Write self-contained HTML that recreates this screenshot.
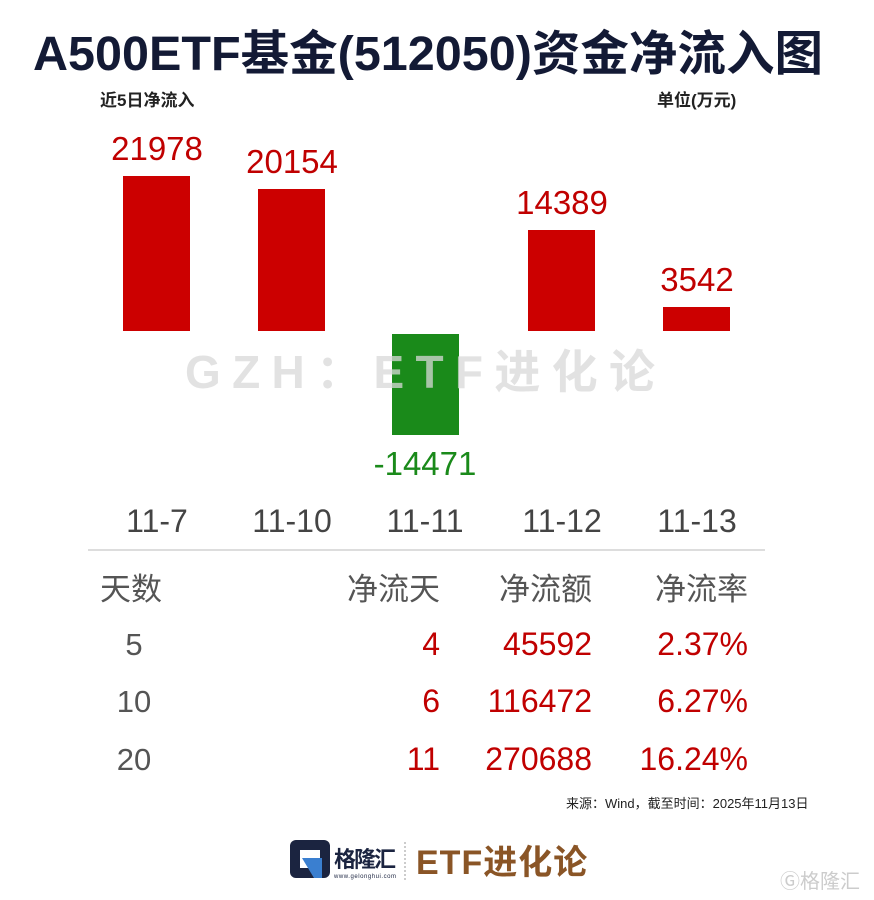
<!DOCTYPE html><html><head><meta charset="utf-8"><style>body{margin:0;background:#fff}svg{display:block}</style></head><body>
<svg width="874" height="900" xmlns="http://www.w3.org/2000/svg" font-family="Liberation Sans, Noto Sans CJK SC, sans-serif">
<text x="33" y="70" font-size="48" font-weight="bold" fill="#131a35" textLength="790" lengthAdjust="spacingAndGlyphs">A500ETF基金(512050)资金净流入图</text>
<text x="100" y="106" font-size="17" font-weight="bold" fill="#222">近5日净流入</text>
<text x="657" y="106" font-size="17" font-weight="bold" fill="#222">单位(万元)</text>
<rect x="123" y="176" width="67" height="155" fill="#cc0000"/>
<rect x="258" y="189" width="67" height="142" fill="#cc0000"/>
<rect x="392" y="334" width="67" height="101" fill="#1a8a1a"/>
<rect x="528" y="230" width="67" height="101" fill="#cc0000"/>
<rect x="663" y="307" width="67" height="24" fill="#cc0000"/>
<text x="185" y="388" font-size="46" font-weight="bold" fill="#d8d8d8" fill-opacity="0.75" textLength="470" lengthAdjust="spacing">GZH：ETF进化论</text>
<g font-size="33" fill="#c00000" text-anchor="middle">
<text x="157" y="160">21978</text><text x="292" y="173">20154</text><text x="562" y="214">14389</text><text x="697" y="291">3542</text>
<text x="425" y="475" fill="#1a8a1a">-14471</text></g>
<g font-size="32" fill="#444" text-anchor="middle">
<text x="157" y="532">11-7</text><text x="292" y="532">11-10</text><text x="425" y="532">11-11</text><text x="562" y="532">11-12</text><text x="697" y="532">11-13</text></g>
<line x1="88" y1="550" x2="765" y2="550" stroke="#ddd" stroke-width="2"/>
<g font-size="31" fill="#555"><text x="100" y="600">天数</text>
<text x="440" y="600" text-anchor="end">净流天</text><text x="592" y="600" text-anchor="end">净流额</text><text x="748" y="600" text-anchor="end">净流率</text>
<g text-anchor="middle"><text x="134" y="655">5</text><text x="134" y="712">10</text><text x="134" y="770">20</text></g></g>
<g font-size="32" fill="#c00000" text-anchor="end">
<text x="440" y="655">4</text><text x="592" y="655">45592</text><text x="748" y="655">2.37%</text>
<text x="440" y="712">6</text><text x="592" y="712">116472</text><text x="748" y="712">6.27%</text>
<text x="440" y="770">11</text><text x="592" y="770">270688</text><text x="748" y="770">16.24%</text></g>
<text x="566" y="808" font-size="13" fill="#222">来源：Wind，截至时间：2025年11月13日</text>
<rect x="290" y="840" width="40" height="38" rx="6" fill="#1b2440"/>
<rect x="300" y="850" width="20" height="18" fill="#fff"/><polygon points="302,858 322,858 322,878 314,878" fill="#3a7fd0"/>
<text x="334" y="867" font-size="22" font-weight="bold" fill="#1b2440" textLength="62">格隆汇</text>
<text x="334" y="878" font-size="6" fill="#1b2440" textLength="62">www.gelonghui.com</text>
<line x1="405" y1="842" x2="405" y2="880" stroke="#999" stroke-dasharray="2,2"/>
<text x="416" y="874" font-size="34" font-weight="bold" fill="#8a5526" letter-spacing="1">ETF进化论</text>
<text x="780" y="888" font-size="20" fill="#ccc">Ⓖ格隆汇</text>
</svg></body></html>
